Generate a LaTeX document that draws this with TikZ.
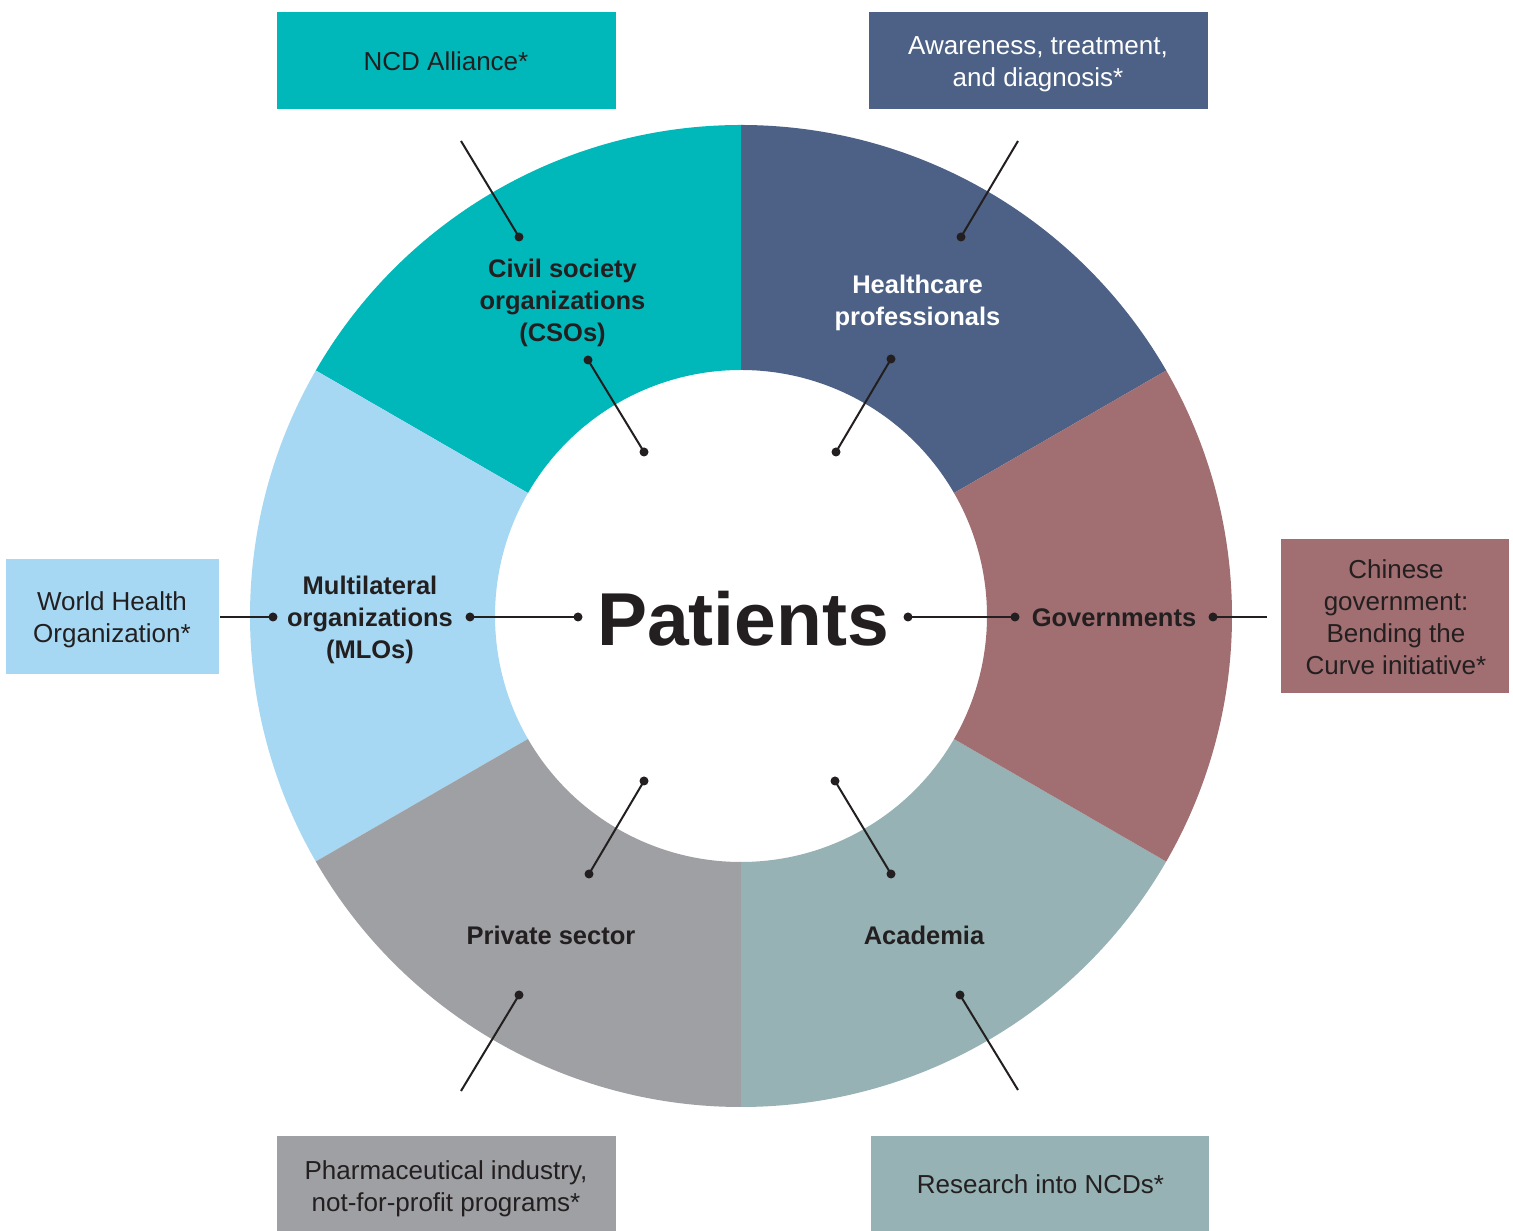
\documentclass[tikz,border=0pt]{standalone}
\usepackage{fontspec}
\setmainfont{Liberation Sans}
\definecolor{cTeal}{HTML}{00B8BA}
\definecolor{cSlate}{HTML}{4C6185}
\definecolor{cMauve}{HTML}{A16E71}
\definecolor{cSage}{HTML}{96B2B4}
\definecolor{cGray}{HTML}{9FA0A4}
\definecolor{cSky}{HTML}{A6D8F3}
\definecolor{cInk}{HTML}{231F20}
\newcommand{\st}{\strut}
\tikzset{
  panel/.style={rectangle, inner sep=0pt, draw=none},
  boxtext/.style={font=\fontsize{26}{32}\selectfont, text=cInk, align=center, inner sep=0pt},
  seglabel/.style={font=\fontsize{25.5}{32}\selectfont\bfseries, text=cInk, align=center, inner sep=0pt},
  dotnode/.style={circle, fill=cInk, draw=none, inner sep=0pt, minimum size=9pt},
  link/.style={draw=cInk, line width=2pt},
}
\begin{document}
\begin{tikzpicture}[x=1pt, y=1pt]
\useasboundingbox (0,0) rectangle (1513,1231);
\fill[white] (0,0) rectangle (1513,1231);

% ring segments
\begin{scope}[shift={(741,615)}]
\fill[cSlate] (30:491) arc[start angle=30, end angle=90, radius=491] -- (90:246) arc[start angle=90, end angle=30, radius=246] -- cycle;
\fill[cTeal] (90:491) arc[start angle=90, end angle=150, radius=491] -- (150:246) arc[start angle=150, end angle=90, radius=246] -- cycle;
\fill[cSky] (150:491) arc[start angle=150, end angle=210, radius=491] -- (210:246) arc[start angle=210, end angle=150, radius=246] -- cycle;
\fill[cGray] (210:491) arc[start angle=210, end angle=270, radius=491] -- (270:246) arc[start angle=270, end angle=210, radius=246] -- cycle;
\fill[cSage] (270:491) arc[start angle=270, end angle=330, radius=491] -- (330:246) arc[start angle=330, end angle=270, radius=246] -- cycle;
\fill[cMauve] (-30:491) arc[start angle=-30, end angle=30, radius=491] -- (30:246) arc[start angle=30, end angle=-30, radius=246] -- cycle;
\end{scope}

% outer boxes
\node[panel, fill=cTeal, minimum width=339pt, minimum height=97pt] (ncdbox) at (446.5,1170.5) {};
\node[panel, fill=cSlate, minimum width=339pt, minimum height=97pt] (awbox) at (1038.5,1170.5) {};
\node[panel, fill=cSky, minimum width=213pt, minimum height=115pt] (whobox) at (112.5,614.5) {};
\node[panel, fill=cMauve, minimum width=228pt, minimum height=154pt] (cnbox) at (1395,615) {};
\node[panel, fill=cGray, minimum width=339pt, minimum height=95pt] (phbox) at (446.5,47.5) {};
\node[panel, fill=cSage, minimum width=338pt, minimum height=95pt] (rsbox) at (1040,47.5) {};

% box texts
\node[boxtext] (ncdtext) at (446,1166.4) {\st NCD Alliance*};
\node[boxtext, text=white] (awtext) at (1038,1166.4) {\st Awareness, treatment,\\\st and diagnosis*};
\node[boxtext] (whotext) at (112,610.4) {\st World Health\\\st Organization*};
\node[boxtext] (cntext) at (1396,610.4) {\st Chinese\\\st government:\\\st Bending the\\\st Curve initiative*};
\node[boxtext] (phtext) at (446,41.4) {\st Pharmaceutical industry,\\\st not-for-profit programs*};
\node[boxtext] (rstext) at (1040.5,43.4) {\st Research into NCDs*};

% segment labels
\node[seglabel] (cso) at (562.5,927.4) {\st Civil society\\\st organizations\\\st (CSOs)};
\node[seglabel, text=white] (hcp) at (917.5,927.4) {\st Healthcare\\\st professionals};
\node[seglabel] (gov) at (1114,610.4) {\st Governments};
\node[seglabel] (mlo) at (370,610.4) {\st Multilateral\\\st organizations\\\st (MLOs)};
\node[seglabel] (prv) at (551,292.4) {\st Private sector};
\node[seglabel] (acd) at (924,292.4) {\st Academia};
\node[font=\fontsize{75}{80}\selectfont\bfseries, text=cInk, inner sep=0pt, anchor=base] (pat) at (743,585) {Patients};

% dots and free ends
\coordinate (csoEnd) at (461,1090);
\node[dotnode] (csoA) at (519,994) {};
\node[dotnode] (csoB) at (588,871) {};
\node[dotnode] (csoC) at (644,779) {};

\coordinate (hcEnd) at (1018,1090);
\node[dotnode] (hcA) at (961,994) {};
\node[dotnode] (hcB) at (891,872) {};
\node[dotnode] (hcC) at (836,779) {};

\node[dotnode] (govA) at (908,614) {};
\node[dotnode] (govB) at (1015,614) {};
\node[dotnode] (govC) at (1213,614) {};
\coordinate (govEnd) at (1267,614);

\coordinate (mloEnd) at (220,614);
\node[dotnode] (mloA) at (273,614) {};
\node[dotnode] (mloB) at (470,614) {};
\node[dotnode] (mloC) at (578,614) {};

\node[dotnode] (prC) at (644,450) {};
\node[dotnode] (prB) at (589,357) {};
\node[dotnode] (prA) at (519,236) {};
\coordinate (prEnd) at (461,140);

\node[dotnode] (acC) at (835,450) {};
\node[dotnode] (acB) at (891,357) {};
\node[dotnode] (acA) at (960,236) {};
\coordinate (acEnd) at (1018,141);

% connectors
\draw[link] (csoEnd) -- (csoA.center);
\draw[link] (csoB.center) -- (csoC.center);
\draw[link] (hcEnd) -- (hcA.center);
\draw[link] (hcB.center) -- (hcC.center);
\draw[link] (govA.center) -- (govB.center);
\draw[link] (govC.center) -- (govEnd);
\draw[link] (mloEnd) -- (mloA.center);
\draw[link] (mloB.center) -- (mloC.center);
\draw[link] (prC.center) -- (prB.center);
\draw[link] (prA.center) -- (prEnd);
\draw[link] (acC.center) -- (acB.center);
\draw[link] (acA.center) -- (acEnd);
\end{tikzpicture}
\end{document}
